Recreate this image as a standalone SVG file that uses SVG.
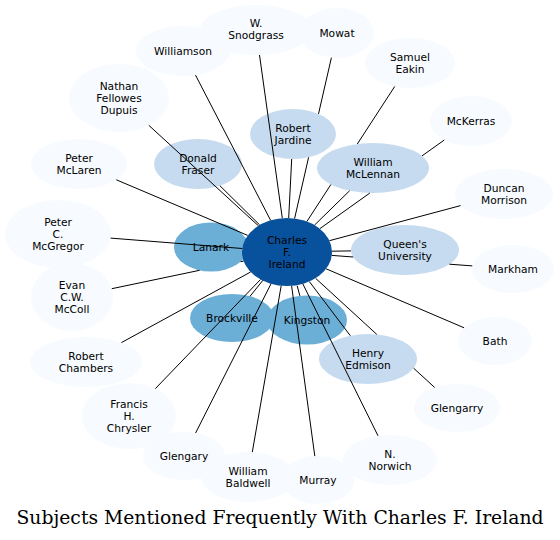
<svg xmlns="http://www.w3.org/2000/svg" width="560" height="540" viewBox="0 0 560 540">
<style>
.n text{font-family:"DejaVu Sans","Noto Sans",sans-serif;font-size:10.67px;fill:#000;text-anchor:middle}
.l1{fill:#f7fbff}
.l3{fill:#c6dbef}
.l5{fill:#6baed6}
.l8{fill:#08519c}
#edges path{stroke:#000;stroke-width:1;fill:none}
.title{font-family:"DejaVu Serif","Liberation Serif",serif;font-size:18px;fill:#000;text-anchor:middle}
</style>
<rect width="560" height="540" fill="#fff"/>
<g id="nodes">
<g id="n-williamson" class="n"><ellipse class="l1" cx="183" cy="51" rx="47" ry="25"/><text x="183" y="55">Williamson</text></g>
<g id="n-snodgrass" class="n"><ellipse class="l1" cx="256" cy="30" rx="56" ry="25"/><text x="256" y="26.5">W.</text><text x="256" y="38.5">Snodgrass</text></g>
<g id="n-mowat" class="n"><ellipse class="l1" cx="337" cy="33" rx="37" ry="25"/><text x="337" y="36.8">Mowat</text></g>
<g id="n-eakin" class="n"><ellipse class="l1" cx="410" cy="63" rx="45" ry="25"/><text x="410" y="60.8">Samuel</text><text x="410" y="72.8">Eakin</text></g>
<g id="n-mckerras" class="n"><ellipse class="l1" cx="471" cy="121" rx="41" ry="25"/><text x="471" y="124.8">McKerras</text></g>
<g id="n-morrison" class="n"><ellipse class="l1" cx="504" cy="194" rx="49" ry="25"/><text x="504" y="191.8">Duncan</text><text x="504" y="203.8">Morrison</text></g>
<g id="n-markham" class="n"><ellipse class="l1" cx="513" cy="269" rx="41" ry="24"/><text x="513" y="272.8">Markham</text></g>
<g id="n-bath" class="n"><ellipse class="l1" cx="495" cy="341" rx="37" ry="24"/><text x="495" y="344.8">Bath</text></g>
<g id="n-glengarry" class="n"><ellipse class="l1" cx="457" cy="408" rx="43" ry="24"/><text x="457" y="411.8">Glengarry</text></g>
<g id="n-norwich" class="n"><ellipse class="l1" cx="390" cy="460" rx="47" ry="25"/><text x="390" y="457.8">N.</text><text x="390" y="469.8">Norwich</text></g>
<g id="n-murray" class="n"><ellipse class="l1" cx="318" cy="480" rx="36" ry="24"/><text x="318" y="483.8">Murray</text></g>
<g id="n-baldwell" class="n"><ellipse class="l1" cx="248" cy="477" rx="47" ry="25"/><text x="248" y="474.8">William</text><text x="248" y="486.8">Baldwell</text></g>
<g id="n-glengary" class="n"><ellipse class="l1" cx="184" cy="456" rx="41" ry="24"/><text x="184" y="459.8">Glengary</text></g>
<g id="n-chrysler" class="n"><ellipse class="l1" cx="129" cy="416" rx="47" ry="33"/><text x="129" y="407.8">Francis</text><text x="129" y="419.8">H.</text><text x="129" y="431.8">Chrysler</text></g>
<g id="n-chambers" class="n"><ellipse class="l1" cx="86" cy="362" rx="56" ry="25"/><text x="86" y="359.8">Robert</text><text x="86" y="371.8">Chambers</text></g>
<g id="n-mccoll" class="n"><ellipse class="l1" cx="72" cy="297" rx="41" ry="34"/><text x="72" y="288.8">Evan</text><text x="72" y="300.8">C.W.</text><text x="72" y="312.8">McColl</text></g>
<g id="n-mcgregor" class="n"><ellipse class="l1" cx="58" cy="234" rx="53" ry="34"/><text x="58" y="225.8">Peter</text><text x="58" y="237.8">C.</text><text x="58" y="249.8">McGregor</text></g>
<g id="n-mclaren" class="n"><ellipse class="l1" cx="79" cy="164" rx="48" ry="25"/><text x="79" y="161.8">Peter</text><text x="79" y="173.8">McLaren</text></g>
<g id="n-dupuis" class="n"><ellipse class="l1" cx="119" cy="98" rx="50" ry="34"/><text x="119" y="89.8">Nathan</text><text x="119" y="101.8">Fellowes</text><text x="119" y="113.8">Dupuis</text></g>
<g id="n-fraser" class="n"><ellipse class="l3" cx="198" cy="164" rx="44" ry="25"/><text x="198" y="161.8">Donald</text><text x="198" y="173.8">Fraser</text></g>
<g id="n-jardine" class="n"><ellipse class="l3" cx="293" cy="134" rx="43" ry="25"/><text x="293" y="131.8">Robert</text><text x="293" y="143.8">Jardine</text></g>
<g id="n-mclennan" class="n"><ellipse class="l3" cx="373" cy="168" rx="56" ry="25"/><text x="373" y="165.8">William</text><text x="373" y="177.8">McLennan</text></g>
<g id="n-queens" class="n"><ellipse class="l3" cx="405" cy="250" rx="54" ry="25"/><text x="405" y="247.8">Queen's</text><text x="405" y="259.8">University</text></g>
<g id="n-edmison" class="n"><ellipse class="l3" cx="368" cy="359" rx="49" ry="25"/><text x="368" y="356.8">Henry</text><text x="368" y="368.8">Edmison</text></g>
<g id="n-lanark" class="n"><ellipse class="l5" cx="211" cy="247" rx="37" ry="24.5"/><text x="211" y="250.8">Lanark</text></g>
<g id="n-brockville" class="n"><ellipse class="l5" cx="232" cy="318" rx="42" ry="24"/><text x="232" y="321.8">Brockville</text></g>
<g id="n-kingston" class="n"><ellipse class="l5" cx="307" cy="320" rx="40" ry="24.5"/><text x="307" y="323.8">Kingston</text></g>
<g id="n-ireland" class="n"><ellipse class="l8" cx="287" cy="252" rx="45" ry="34"/><text x="287" y="243.8">Charles</text><text x="287" y="255.8">F.</text><text x="287" y="267.8">Ireland</text></g>
</g>
<g id="edges">
<path d="M195.5,75.1 L270.6,220.3"/>
<path d="M259.5,55 L282.3,218.2"/>
<path d="M331.4,57.7 L318.5,113.9 M308.6,157.3 L294.6,218.5"/>
<path d="M291.7,159 L288.7,218"/>
<path d="M394.7,86.5 L357.3,144 M330.9,184.5 L306.9,221.5"/>
<path d="M349.7,190.7 L314.5,225.1"/>
<path d="M444.3,140 L422,155.9 M369.9,193 L319.8,228.7"/>
<path d="M460.6,205.6 L329.4,240.7"/>
<path d="M351,250.9 L332,251.2"/>
<path d="M472.3,265.9 L449.4,264.2 M353.2,257 L331.8,255.4"/>
<path d="M464.1,327.8 L326.1,268.8"/>
<path d="M350.3,335.7 L309.3,281.5"/>
<path d="M434.7,387.5 L413.6,368.2 M376.8,334.4 L315.6,278.3"/>
<path d="M378,435.8 L302.8,283.8"/>
<path d="M314.8,456.1 L291.6,285.8"/>
<path d="M252.3,452.1 L281.2,285.7"/>
<path d="M195.6,433 L271,283.8"/>
<path d="M155.3,388.7 L260.5,279.5"/>
<path d="M121.4,342.6 L250.6,272"/>
<path d="M111.8,288.7 L199.6,270.3 M240.6,261.7 L243.6,261.1"/>
<path d="M110.6,238.1 L242.3,248.5"/>
<path d="M116.3,179.8 L247.7,235.4"/>
<path d="M148.8,125.3 L258.4,225.8"/>
<path d="M219.9,185.7 L259.7,225"/>
<path d="M250,296.3 L263,280.2"/>
<path d="M299.9,295.9 L297.2,285.8"/>
</g>
<text class="title" x="280" y="524" textLength="527" lengthAdjust="spacingAndGlyphs">Subjects Mentioned Frequently With Charles F. Ireland</text>
</svg>
